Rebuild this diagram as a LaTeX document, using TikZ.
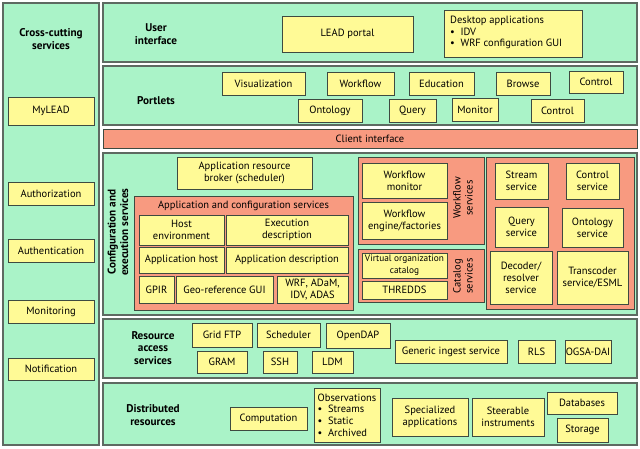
\documentclass[tikz,border=0pt]{standalone}
\usepackage{fontspec}
\setmainfont{PT Sans}
\definecolor{bandg}{HTML}{AAF3C8}
\definecolor{ybox}{HTML}{FFFA96}
\definecolor{salm}{HTML}{F89A80}
\definecolor{edge}{HTML}{3E4A40}
\definecolor{bedge}{HTML}{5E6A62}
\newcommand\bx[7]{%
 \pgfmathsetmacro\bxcx{(#2+#4)/2}\pgfmathsetmacro\bxcy{(#3+#5)/2}%
 \pgfmathsetmacro\bxw{#4-#2}\pgfmathsetmacro\bxh{#5-#3}%
 \node[#6, minimum width=\bxw pt, minimum height=\bxh pt] (#1) at (\bxcx,\bxcy) {#7};}
\begin{document}
\begin{tikzpicture}[x=1pt,y=-1pt,
  every node/.style={font=\fontsize{10.5}{12}\selectfont, inner sep=0pt, align=center},
  band/.style={draw=bedge, line width=1.1pt, fill=bandg, rectangle},
  yb/.style={draw=edge, line width=0.8pt, fill=ybox, rectangle},
  sb/.style={draw=edge, line width=0.8pt, fill=salm, rectangle},
  lbl/.style={font=\fontsize{11.2}{12.5}\selectfont\bfseries}]
\useasboundingbox (0,0) rectangle (640,448);
\fill[white] (0,0) rectangle (640,448);
% left column
\bx{cross}{3}{3}{99}{445}{band}{}
\node[lbl] (crosst) at (51,39) {Cross-cutting\\services};
\bx{mylead}{8}{97}{94}{125}{yb}{MyLEAD}
\bx{authz}{8}{182}{94}{205}{yb}{Authorization}
\bx{authn}{8}{239}{94}{262}{yb}{Authentication}
\bx{monit}{8}{300}{94}{323}{yb}{Monitoring}
\bx{notif}{8}{358}{94}{380}{yb}{Notification}
% user interface
\bx{ui}{103}{3}{637}{62}{band}{}
\node[lbl] (uit) at (156,34) {User\\interface};
\bx{portal}{282}{16}{413}{52}{yb}{LEAD portal}
\bx{desk}{444}{10}{582}{57}{yb}{}
\node[align=left, anchor=north west, font=\fontsize{10.5}{11.5}\selectfont] (deskt) at (450,16) {Desktop applications\\ \textbullet\ \ IDV\\ \textbullet\ \ WRF configuration GUI};
% portlets
\bx{portlets}{103}{66}{637}{125}{band}{}
\node[lbl] (portt) at (156,101) {Portlets};
\bx{vis}{222}{72}{305}{95}{yb}{Visualization}
\bx{wf}{327}{72}{394}{95}{yb}{Workflow}
\bx{edu}{409}{72}{474}{95}{yb}{Education}
\bx{browse}{496}{72}{550}{95}{yb}{Browse}
\bx{ctl1}{569}{71}{623}{93}{yb}{Control}
\bx{onto}{298}{99}{362}{122}{yb}{Ontology}
\bx{query}{389}{99}{436}{122}{yb}{Query}
\bx{monp}{452}{98}{498}{121}{yb}{Monitor}
\bx{ctl2}{531}{99}{584}{122}{yb}{Control}
% client interface
\bx{client}{103}{129}{637}{148}{sb}{Client interface}
% configuration and execution
\bx{conf}{103}{153}{637}{315}{band}{}
\node[lbl, rotate=90] (conft) at (118,232) {Configuration and\\execution services};
\bx{broker}{177}{157}{312}{189}{yb}{Application resource\\broker (scheduler)}
\bx{acs}{134}{196}{353}{310}{sb}{}
\node (acst) at (243.5,205.5) {Application and configuration services};
\bx{hostenv}{139}{215}{224}{245}{yb}{Host\\environment}
\bx{execd}{226}{215}{348}{245}{yb}{Execution\\description}
\bx{apphost}{139}{247}{224}{273}{yb}{Application host}
\bx{appdesc}{226}{247}{348}{273}{yb}{Application description}
\bx{gpir}{139}{276}{174}{303}{yb}{GPIR}
\bx{geo}{176}{276}{273}{303}{yb}{Geo-reference GUI}
\bx{wrf}{277}{276}{348}{303}{yb}{WRF, ADaM,\\IDV, ADAS}
\bx{wfs}{358}{157}{484}{244}{sb}{}
\node[rotate=90] (wfst) at (463,198) {Workflow\\services};
\bx{wfmon}{362}{163}{447}{198}{yb}{Workflow\\monitor}
\bx{wfeng}{362}{202}{447}{239}{yb}{Workflow\\engine/factories}
\bx{cats}{358}{249}{484}{302}{sb}{}
\node[rotate=90] (catst) at (463,276) {Catalog\\services};
\bx{voc}{362}{253}{447}{278}{yb}{\fontsize{9.3}{10.5}\selectfont Virtual organization\\\fontsize{9.3}{10.5}\selectfont catalog}
\bx{thredds}{362}{281}{447}{299}{yb}{THREDDS}
\bx{dsv}{486}{157}{634}{309}{sb}{}
\bx{stream}{495}{163}{548}{199}{yb}{Stream\\service}
\bx{ctls}{566}{163}{619}{199}{yb}{Control\\service}
\bx{qs}{495}{207}{548}{247}{yb}{Query\\service}
\bx{os}{562}{208}{623}{247}{yb}{Ontology\\service}
\bx{dec}{490}{251}{552}{304}{yb}{Decoder/\\resolver\\service}
\bx{trans}{557}{251}{628}{304}{yb}{Transcoder\\service/ESML}
% resource access
\bx{ras}{103}{319}{637}{378}{band}{}
\node[lbl] (rast) at (153,348) {Resource\\access\\services};
\bx{gftp}{192}{323}{252}{347}{yb}{Grid FTP}
\bx{sched}{257}{323}{320}{347}{yb}{Scheduler}
\bx{odap}{326}{323}{390}{348}{yb}{OpenDAP}
\bx{gram}{197}{351}{247}{373}{yb}{GRAM}
\bx{ssh}{263}{351}{297}{373}{yb}{SSH}
\bx{ldm}{312}{351}{353}{373}{yb}{LDM}
\bx{gis}{395}{340}{507}{363}{yb}{Generic ingest service}
\bx{rls}{518}{340}{555}{363}{yb}{RLS}
\bx{ogsa}{565}{340}{611}{363}{yb}{OGSA-DAI}
% distributed resources
\bx{dr}{103}{383}{637}{445}{band}{}
\node[lbl] (drt) at (153,415) {Distributed\\resources};
\bx{comp}{230}{407}{307}{430}{yb}{Computation}
\bx{obs}{314}{388}{380}{442}{yb}{}
\node[align=left, font=\fontsize{10.5}{11.6}\selectfont] (obst) at (347,415) {Observations\\\textbullet\ \ Streams\\\textbullet\ \ Static\\\textbullet\ \ Archived};
\bx{spec}{392}{398}{468}{436}{yb}{Specialized\\applications}
\bx{steer}{472}{398}{544}{436}{yb}{Steerable\\instruments}
\bx{db}{547}{392}{617}{414}{yb}{Databases}
\bx{stor}{557}{418}{608}{442}{yb}{Storage}
\end{tikzpicture}
\end{document}
